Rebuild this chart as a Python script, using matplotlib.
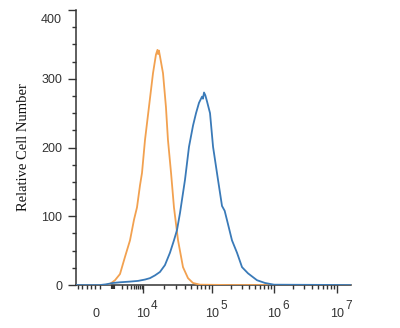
import numpy as np
import matplotlib
matplotlib.use("Agg")
import matplotlib.pyplot as plt
import matplotlib.transforms as mtransforms
from matplotlib.ticker import FixedLocator, NullFormatter, FixedFormatter

plt.rcParams['font.family'] = ['Liberation Sans', 'DejaVu Sans']

# ---- data (fluorescence intensity, relative cell number) ----
orange_x = [-2364, 273, 727, 1166, 1711, 2512, 3687, 5012, 6310, 7943, 9261,
            10690, 12200, 13960, 15400, 16200, 16500, 17000, 17600, 19500, 21500,
            23000, 25500, 28100, 32200, 38000, 44900, 53000, 67000, 200000, 16700000]
orange_y = [0, 0, 1.5, 7, 16, 41, 65, 95, 113, 145, 163,
            211, 259, 308, 335, 342, 336, 341, 333, 308, 259,
            211, 163, 113, 65, 26, 10, 3, 0.5, 0, 0]

blue_x = [-2364, -182, 364, 1000, 1711, 3687, 6813, 10700, 12600, 14900, 17600,
          20800, 24600, 28100, 31100, 34400, 40600, 46400, 53100, 58700, 64800,
          71700, 74000, 76600, 80000, 84700, 93600, 104000, 125000, 145000, 160000,
          175000, 210000, 253000, 305000, 381000, 532000, 716000, 1000000, 16700000]
blue_y = [0, 0, 1, 3, 4, 5, 6, 8, 10, 14, 19,
          29, 47, 65, 80, 105, 153, 201, 232, 250, 265,
          274, 271, 280, 276, 267, 250, 201, 153, 115, 108,
          94, 65, 47, 26, 17, 7, 3, 0.5, 0]

y_ticks = [0, 100, 200, 300, 400]
x_tick_values = [0, 1e4, 1e5, 1e6, 1e7]
x_tick_bases = ['0', '10', '10', '10', '10']
x_tick_exponents = ['', '4', '5', '6', '7']

# ---- logicle-like display scale ----
LD = np.array([3.0, 4.0, 5.0, 6.0, 7.0, 8.0])
LP = np.array([113.0, 143.0, 212.0, 274.0, 337.0, 400.0])
P0, P3 = 102.0, 113.0


def fwd(v):
    v = np.asarray(v, dtype=float)
    lin = P0 + v / 1e3 * (P3 - P0)
    lg = np.interp(np.log10(np.maximum(v, 1e3)), LD, LP)
    return np.where(v >= 1e3, lg, lin)


def inv(p):
    p = np.asarray(p, dtype=float)
    lin = (p - P0) / (P3 - P0) * 1e3
    lg = 10 ** np.interp(np.maximum(p, P3), LP, LD)
    return np.where(p >= P3, lg, lin)


fig = plt.figure(figsize=(4.0, 3.28), dpi=100)
ax = fig.add_axes([0.19, 0.131, 0.6875, 0.8385])
ax.set_xscale('function', functions=(fwd, inv))

ax.plot(orange_x, orange_y, color='#F2A150', lw=1.3, zorder=3)
ax.plot(blue_x, blue_y, color='#3A7AB8', lw=1.3, zorder=4)

ax.set_xlim(inv(76.0), inv(351.0))
ax.set_ylim(0, 400)

for s in ['top', 'right']:
    ax.spines[s].set_visible(False)
for s in ['left', 'bottom']:
    ax.spines[s].set_color('#333333')
    ax.spines[s].set_linewidth(1.1)

ax.set_yticks(y_ticks)
ax.yaxis.set_minor_locator(FixedLocator(np.arange(0, 401, 25)))
ax.xaxis.set_major_locator(FixedLocator(x_tick_values))
ax.xaxis.set_major_formatter(FixedFormatter(x_tick_bases))
minor_x = list(np.arange(-2200, 0, 400)) + [0, 1e3]
for d in [3, 4, 5, 6]:
    minor_x += [k * 10 ** d for k in range(2, 10)]
ax.xaxis.set_minor_locator(FixedLocator(minor_x))
ax.xaxis.set_minor_formatter(NullFormatter())

ax.tick_params(axis='both', which='major', direction='out', length=6, width=1.0,
               color='#333333', labelsize=9, labelcolor='#333333')
ax.tick_params(axis='both', which='minor', direction='out', length=3, width=1.0,
               color='#333333')
ax.tick_params(axis='x', which='major', pad=10.5)
ax.tick_params(axis='y', which='major', pad=4)

# exponents of the x tick labels
for v, e in zip(x_tick_values, x_tick_exponents):
    if e:
        ax.annotate(e, xy=(v, 0), xycoords=('data', 'axes fraction'),
                    xytext=(8, -24), textcoords='offset pixels',
                    ha='left', va='baseline', fontsize=8.5, color='#333333')

fig.canvas.draw()
# the 0 tick on x is drawn as a bold short mark, its label a little to the left
for t, loc in zip(ax.xaxis.get_minor_ticks(), minor_x):
    if loc == 0:
        t.tick1line.set_markeredgewidth(3)
        t.tick1line.set_color('#111111')
for t, loc in zip(ax.xaxis.get_major_ticks(), x_tick_values):
    if loc == 0:
        t.tick1line.set_visible(False)
        off = mtransforms.ScaledTranslation(-6 / 100, 0, fig.dpi_scale_trans)
        t.label1.set_transform(t.label1.get_transform() + off)
# the top y label sits a little below its tick
for t, loc in zip(ax.yaxis.get_major_ticks(), y_ticks):
    if loc == 400:
        off = mtransforms.ScaledTranslation(0, -8 / 100, fig.dpi_scale_trans)
        t.label1.set_transform(t.label1.get_transform() + off)

ax.set_ylabel('Relative Cell Number', family=['Liberation Serif'], fontsize=10.5,
              color='#111111', labelpad=8)

fig.savefig('out.png', dpi=100)
